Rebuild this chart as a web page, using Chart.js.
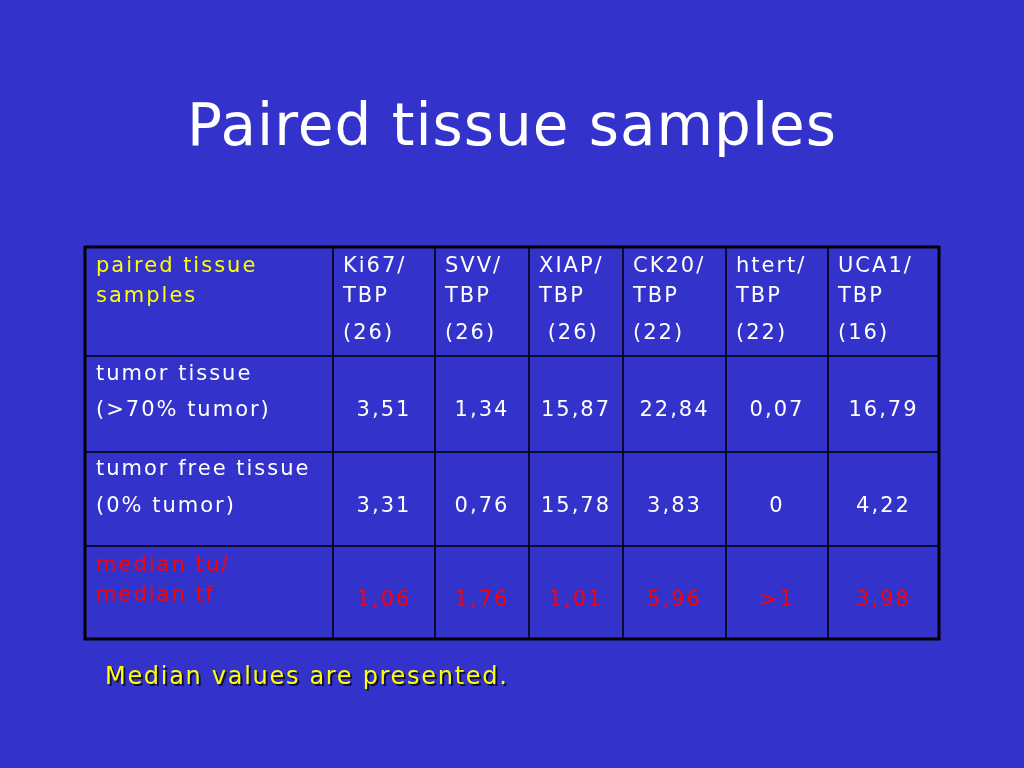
<!DOCTYPE html>
<html>
<head>
<meta charset="utf-8">
<script src="https://cdn.jsdelivr.net/npm/chart.js@4/dist/chart.umd.min.js"></script>
<style>
  html, body { margin: 0; padding: 0; background: #3333cc; }
  canvas { display: block; }
</style>
</head>
<body>
<canvas id="slide" width="1024" height="768"></canvas>
<script>
var title = 'Paired tissue samples';
var headerLabel = ['paired tissue', 'samples'];
var columns = [['Ki67/', 'TBP', '(26)'], ['SVV/', 'TBP', '(26)'], ['XIAP/', 'TBP', ' (26)'],
               ['CK20/', 'TBP', '(22)'], ['htert/', 'TBP', '(22)'], ['UCA1/', 'TBP', '(16)']];
var rowLabels = [['tumor tissue', '(>70% tumor)'], ['tumor free tissue', '(0% tumor)'], ['median tu/', 'median tf']];
var tumorValues = ['3,51', '1,34', '15,87', '22,84', '0,07', '16,79'];
var freeValues = ['3,31', '0,76', '15,78', '3,83', '0', '4,22'];
var ratioValues = ['1,06', '1,76', '1,01', '5,96', '>1', '3,98'];
var footnote = 'Median values are presented.';

// table grid lines in slide units
var colEdges = [85, 333, 435, 529, 623, 726, 828, 939];
var rowEdges = [247, 356, 452, 546, 639];

var FONT = '"DejaVu Sans", Verdana, sans-serif';

var tablePlugin = {
  id: 'slideTable',
  afterDraw: function (chart) {
    var ctx = chart.ctx;
    var sx = chart.scales.x, sy = chart.scales.y;
    function X(v) { return sx.getPixelForValue(v); }
    function Y(v) { return sy.getPixelForValue(v); }
    ctx.save();

    ctx.fillStyle = '#ffffff';
    ctx.font = '58px ' + FONT;
    ctx.letterSpacing = '1px';
    ctx.textAlign = 'center';
    ctx.textBaseline = 'middle';
    ctx.fillText(title, X(512), Y(130));

    // grid
    ctx.strokeStyle = '#000000';
    ctx.lineWidth = 1.5;
    colEdges.slice(1, -1).forEach(function (c) {
      ctx.beginPath(); ctx.moveTo(X(c), Y(rowEdges[0])); ctx.lineTo(X(c), Y(rowEdges[rowEdges.length - 1])); ctx.stroke();
    });
    rowEdges.slice(1, -1).forEach(function (r) {
      ctx.beginPath(); ctx.moveTo(X(colEdges[0]), Y(r)); ctx.lineTo(X(colEdges[colEdges.length - 1]), Y(r)); ctx.stroke();
    });
    ctx.lineWidth = 3;
    ctx.strokeRect(X(colEdges[0]), Y(rowEdges[0]), X(colEdges[7]) - X(colEdges[0]), Y(rowEdges[4]) - Y(rowEdges[0]));

    ctx.font = '21px ' + FONT;
    ctx.letterSpacing = '2px';
    ctx.textAlign = 'left';
    ctx.fillStyle = '#ffff00';
    ctx.fillText(headerLabel[0], X(96), Y(267));
    ctx.fillText(headerLabel[1], X(96), Y(297));
    ctx.fillStyle = '#ffffff';
    columns.forEach(function (col, i) {
      var x = colEdges[i + 1] + 10;
      ctx.fillText(col[0], X(x), Y(267));
      ctx.fillText(col[1], X(x), Y(297));
      ctx.fillText(col[2], X(x), Y(334));
    });

    var labelY = [[375, 411], [470, 507], [566, 596]];
    var valueY = [411, 507, 601];
    var sets = [tumorValues, freeValues, ratioValues];
    var colors = ['#ffffff', '#ffffff', '#ff0000'];
    rowLabels.forEach(function (lab, r) {
      ctx.fillStyle = colors[r];
      ctx.textAlign = 'left';
      ctx.fillText(lab[0], X(96), Y(labelY[r][0]));
      ctx.fillText(lab[1], X(96), Y(labelY[r][1]));
      ctx.textAlign = 'center';
      sets[r].forEach(function (v, i) {
        ctx.fillText(v, X((colEdges[i + 1] + colEdges[i + 2]) / 2), Y(valueY[r]));
      });
    });

    ctx.textAlign = 'left';
    ctx.font = '24px ' + FONT;
    ctx.letterSpacing = '1.7px';
    ctx.fillStyle = '#111133';
    ctx.fillText(footnote, X(107), Y(680));
    ctx.fillStyle = '#ffff00';
    ctx.fillText(footnote, X(105), Y(678));
    ctx.restore();
  }
};

new Chart(document.getElementById('slide'), {
  type: 'scatter',
  data: { datasets: [{ data: [] }] },
  options: {
    responsive: false,
    animation: false,
    layout: { padding: 0 },
    plugins: { legend: { display: false }, tooltip: { enabled: false } },
    scales: {
      x: { type: 'linear', min: 0, max: 1024, display: false },
      y: { type: 'linear', min: 0, max: 768, reverse: true, display: false }
    }
  },
  plugins: [tablePlugin]
});
</script>
</body>
</html>
